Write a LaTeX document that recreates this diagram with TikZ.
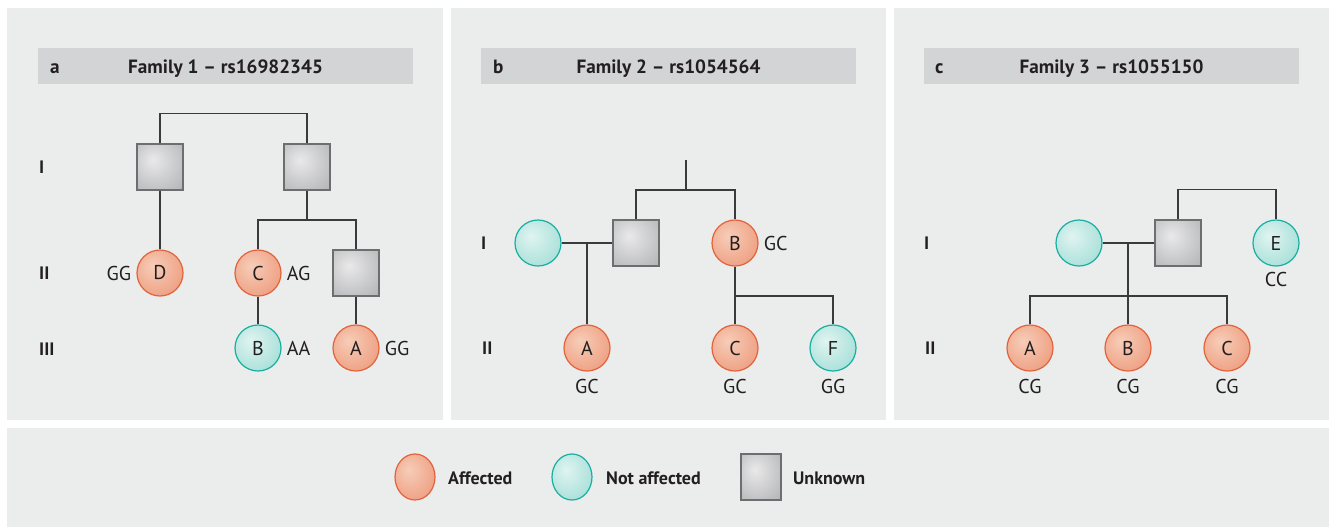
\documentclass[tikz,border=0pt]{standalone}
\usepackage{fontspec}
\setmainfont{PT Sans}
\usetikzlibrary{shapes.geometric}

\definecolor{panelgray}{HTML}{EBECEC}
\definecolor{bargray}{HTML}{D3D4D6}
\definecolor{inkgray}{HTML}{231F20}
\definecolor{linkgray}{HTML}{3A3A3C}
\definecolor{affin}{HTML}{F7CDB8}
\definecolor{affout}{HTML}{E98A69}
\definecolor{affline}{HTML}{E2633B}
\definecolor{naffin}{HTML}{E0F4F1}
\definecolor{naffout}{HTML}{8ED6CD}
\definecolor{naffline}{HTML}{17AFA1}
\definecolor{unkin}{HTML}{E9E9EA}
\definecolor{unkout}{HTML}{A3A4A6}
\definecolor{unkline}{HTML}{6D6E70}

\pgfdeclareradialshading{affshade}{\pgfpoint{-8bp}{8bp}}{color(0bp)=(affin); color(48bp)=(affout); color(70bp)=(affout)}
\pgfdeclareradialshading{naffshade}{\pgfpoint{-8bp}{8bp}}{color(0bp)=(naffin); color(48bp)=(naffout); color(70bp)=(naffout)}
\pgfdeclareradialshading{unkshade}{\pgfpoint{-8bp}{8bp}}{color(0bp)=(unkin); color(52bp)=(unkout); color(75bp)=(unkout)}

\newcommand{\pedfont}{\fontsize{20}{23}\selectfont}
\newcommand{\headfont}{\fontsize{19.2}{22}\selectfont\bfseries}
\newcommand{\legfont}{\fontsize{18}{21}\selectfont\bfseries}

\tikzset{
  aff/.style={circle, draw=affline, line width=1.2pt, shade, shading=affshade, minimum size=46pt, inner sep=0pt, text=inkgray, font=\pedfont},
  naff/.style={circle, draw=naffline, line width=1.2pt, shade, shading=naffshade, minimum size=46pt, inner sep=0pt, text=inkgray, font=\pedfont},
  unk/.style={rectangle, draw=unkline, line width=1.2pt, shade, shading=unkshade, minimum size=46pt, inner sep=0pt},
  link/.style={draw=linkgray, line width=1.1pt},
  gen/.style={anchor=west, inner sep=0pt, font=\legfont, text=inkgray},
  bar/.style={fill=bargray},
  headtext/.style={anchor=base, inner sep=0pt, font=\headfont, text=inkgray},
  legtext/.style={anchor=base west, inner sep=0pt, font=\legfont, text=inkgray},
  every label/.style={text=inkgray, font=\pedfont, inner sep=5pt}
}

\begin{document}
\begin{tikzpicture}[x=1pt, y=-1pt, font=\pedfont]
  \useasboundingbox (0,0) rectangle (1331,528);
  \fill[white] (0,0) rectangle (1331,528);

  % Panels and headers
  \fill[panelgray] (7,8) rectangle (443,420);
  \fill[panelgray] (451,8) rectangle (886,420);
  \fill[panelgray] (894,8) rectangle (1329,420);
  \fill[panelgray] (7,428) rectangle (1329,527);
  \fill[bar] (38,48) rectangle (413,84);
  \fill[bar] (481,48) rectangle (856,84);
  \fill[bar] (924,48) rectangle (1299,84);
  \node[headtext, anchor=base west] (ta) at (50,73) {a};
  \node[headtext] (tta) at (225.5,73) {Family 1 – rs16982345};
  \node[headtext, anchor=base west] (tb) at (493,73) {b};
  \node[headtext] (ttb) at (668.5,73) {Family 2 – rs1054564};
  \node[headtext, anchor=base west] (tc) at (935,73) {c};
  \node[headtext] (ttc) at (1111.5,73) {Family 3 – rs1055150};

  % Family 1
  \node[gen] (aI) at (39,167) {I};
  \node[gen] (aII) at (39,273) {II};
  \node[gen] (aIII) at (39,349) {III};
  \node[unk] (aS1) at (160,167) {};
  \node[unk] (aS2) at (307,167) {};
  \node[aff, label=left:GG] (aD) at (160,273) {D};
  \node[aff, label=right:AG] (aC) at (258,273) {C};
  \node[unk] (aS3) at (356,273) {};
  \node[naff, label=right:AA] (aB) at (258,348) {B};
  \node[aff, label=right:GG] (aA) at (356,348) {A};
  \coordinate (ak) at (307,220);

  \draw[link] (aS1.north) -- ++(0,-30) -| (aS2.north);
  \draw[link] (aS1) -- (aD);
  \draw[link] (aS2) -- (ak);
  \draw[link] (aC.north) |- (ak) -| (aS3.north);
  \draw[link] (aC) -- (aB);
  \draw[link] (aS3) -- (aA);

  % Family 2
  \node[gen] (bI) at (481,243) {I};
  \node[gen] (bII) at (482,348) {II};
  \node[naff] (bT) at (538,243) {};
  \node[unk] (bS) at (636,243) {};
  \node[aff, label=right:GC] (bB) at (735,243) {B};
  \node[aff, label={[label distance=2pt]below:GC}] (bA) at (587,348) {A};
  \node[aff, label={[label distance=2pt]below:GC}] (bC) at (735,348) {C};
  \node[naff, label={[label distance=2pt]below:GG}] (bF) at (833,348) {F};
  \coordinate (bTop) at (686,160);
  \coordinate (bk) at (686,190);
  \coordinate (bk2) at (735,296);

  \draw[link] (bTop) -- (bk);
  \draw[link] (bS.north) |- (bk) -| (bB.north);
  \draw[link] (bT) -- (bS);
  \draw[link] (bA.north) -- (bA |- bT);
  \draw[link] (bB) -- (bC);
  \draw[link] (bk2) -| (bF.north);

  % Family 3
  \node[gen] (cI) at (924,243) {I};
  \node[gen] (cII) at (925,348) {II};
  \node[naff] (cT) at (1079,243) {};
  \node[unk] (cS) at (1178,243) {};
  \node[naff, label={[label distance=0pt]below:CC}] (cE) at (1276,243) {E};
  \node[aff, label={[label distance=2pt]below:CG}] (cA) at (1030,348) {A};
  \node[aff, label={[label distance=2pt]below:CG}] (cB) at (1128,348) {B};
  \node[aff, label={[label distance=2pt]below:CG}] (cC) at (1227,348) {C};
  \coordinate (ck) at (1128,296);

  \draw[link] (cS.north) -- ++(0,-30) -| (cE.north);
  \draw[link] (cT) -- (cS);
  \draw[link] (cB.north) -- (cB |- cT);
  \draw[link] (cA.north) |- (ck) -| (cC.north);

  % Legend
  \node[aff, ellipse, minimum width=40pt, minimum height=46pt] (lgA) at (415,477) {};
  \node[legtext] (lgAT) at (448,484) {Affected};
  \node[naff, ellipse, minimum width=40pt, minimum height=46pt] (lgN) at (572,477) {};
  \node[legtext] (lgNT) at (606,484) {Not affected};
  \node[unk, minimum width=40pt, minimum height=46pt] (lgU) at (761,477) {};
  \node[legtext] (lgUT) at (793,484) {Unknown};
\end{tikzpicture}
\end{document}
